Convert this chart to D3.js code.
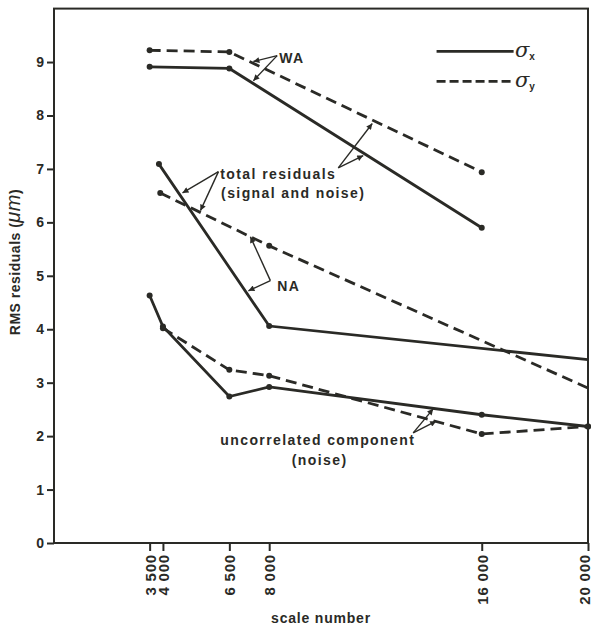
<!DOCTYPE html>
<html>
<head>
<meta charset="utf-8">
<title>RMS residuals vs scale number</title>
<script src="https://d3js.org/d3.v7.min.js"></script>
<style>
  body { margin: 0; background: #fff; }
  text { font-family: "Liberation Sans", Arial, sans-serif; fill: #2a2a26; }
  .tick text { font-weight: bold; }
</style>
</head>
<body>
<svg id="chart" width="593" height="630"></svg>
<script>
// tick values on the scale-number axis
var scaleTicks = [3500, 4000, 6500, 8000, 16000, 20000];
var rmsTicks = [0, 1, 2, 3, 4, 5, 6, 7, 8, 9];

// WA
var waScale = [3500, 6500, 16000];
var waSigmaX = [8.91, 8.88, 5.90];
var waSigmaY = [9.22, 9.19, 6.94];

// NA
var naScaleX = [3850, 8000, 20000];
var naSigmaX = [7.09, 4.06, 3.43];
var naScaleY = [3900, 8000, 20000];
var naSigmaY = [6.55, 5.56, 2.90];

// uncorrelated component (noise)
var ucScaleX = [3500, 4000, 6500, 8000, 16000, 20000];
var ucSigmaX = [4.63, 4.05, 2.74, 2.92, 2.40, 2.18];
var ucScaleY = [4000, 6500, 8000, 16000, 20000];
var ucSigmaY = [4.02, 3.24, 3.13, 2.04, 2.18];

// annotation arrows: from [scale, rms] to tips [scale, rms]
var arrows = [
  {from: [8300, 9.12], to: [[7405, 9.01], [7405, 8.65]]},
  {from: [6090, 6.95], to: [[4736, 6.55], [5413, 6.22]]},
  {from: [10600, 7.02], to: [[11880, 7.85], [11540, 7.25]]},
  {from: [8045, 4.91], to: [[7293, 5.73], [7218, 4.72]]},
  {from: [13420, 2.06], to: [[14286, 2.28], [14173, 2.51]]}
];
var labels = [
  {text: "WA", at: [8380, 8.98], anchor: "start"},
  {text: "total residuals", at: [6160, 6.82], anchor: "start"},
  {text: "(signal and noise)", at: [6190, 6.45], anchor: "start"},
  {text: "NA", at: [8300, 4.72], anchor: "start"},
  {text: "uncorrelated component", at: [6160, 1.83], anchor: "start"},
  {text: "(noise)", at: [9900, 1.46], anchor: "middle"}
];

var ink = "#2a2a26";
var svg = d3.select("#chart");

var x = d3.scaleLinear().domain([-100, 20000]).range([54, 588]);
var y = d3.scaleLinear().domain([0, 10]).range([543, 8.6]);

svg.append("defs").append("marker")
    .attr("id", "head")
    .attr("viewBox", "0 0 10 10")
    .attr("refX", 10).attr("refY", 5)
    .attr("markerWidth", 8).attr("markerHeight", 6)
    .attr("markerUnits", "userSpaceOnUse")
    .attr("orient", "auto")
  .append("path")
    .attr("d", "M0,0 L10,5 L0,10 Z")
    .attr("fill", ink);

// frame
svg.append("rect")
    .attr("x", x(-100)).attr("y", y(10))
    .attr("width", x(20000) - x(-100))
    .attr("height", y(0) - y(10))
    .attr("fill", "none")
    .attr("stroke", ink)
    .attr("stroke-width", 2);

// y axis
var yAxis = svg.append("g")
    .attr("transform", "translate(" + x(-100) + ",0)")
    .call(d3.axisLeft(y).tickValues(rmsTicks).tickSize(7).tickPadding(3).tickFormat(d3.format("d")));
yAxis.select(".domain").remove();
yAxis.selectAll(".tick line").attr("stroke", ink).attr("stroke-width", 2);
yAxis.selectAll(".tick text").style("font-size", "14px").attr("fill", ink);

// x axis
var xAxis = svg.append("g")
    .attr("transform", "translate(0," + y(0) + ")")
    .call(d3.axisBottom(x).tickValues(scaleTicks).tickSize(8)
      .tickFormat(function(d) { return d3.format(",")(d).replace(",", " "); }));
xAxis.select(".domain").remove();
xAxis.selectAll(".tick line").attr("stroke", ink).attr("stroke-width", 2);
xAxis.selectAll(".tick text")
    .style("font-size", "15px")
    .style("letter-spacing", "0.8px")
    .attr("fill", ink)
    .attr("transform", "rotate(-90)")
    .attr("text-anchor", "end")
    .attr("x", -11)
    .attr("y", function(d) { return d === 20000 ? -4 : 0; })  // keep last label inside the page
    .attr("dy", "0.36em");

// axis titles
svg.append("text")
    .attr("x", 321).attr("y", 623)
    .attr("text-anchor", "middle")
    .style("font-size", "14px").style("font-weight", "bold").style("letter-spacing", "0.8px")
    .text("scale number");

var yt = svg.append("text")
    .attr("transform", "translate(20,262) rotate(-90)")
    .attr("text-anchor", "middle")
    .style("font-size", "14px").style("font-weight", "bold").style("letter-spacing", "0.5px");
yt.append("tspan").text("RMS residuals (");
yt.append("tspan").text("\u03bcm").style("font-style", "italic").style("font-size", "20px").style("font-weight", "normal");
yt.append("tspan").text(")");

// series
var line = d3.line().x(function(d) { return x(d[0]); }).y(function(d) { return y(d[1]); });
var series = [
  {xs: waScale, ys: waSigmaX, dash: null},
  {xs: waScale, ys: waSigmaY, dash: "11,6"},
  {xs: naScaleX, ys: naSigmaX, dash: null},
  {xs: naScaleY, ys: naSigmaY, dash: "11,6"},
  {xs: ucScaleX, ys: ucSigmaX, dash: null},
  {xs: ucScaleY, ys: ucSigmaY, dash: "11,6"}
];
series.forEach(function(s) {
  var pts = d3.zip(s.xs, s.ys);
  svg.append("path")
      .datum(pts)
      .attr("d", line)
      .attr("fill", "none")
      .attr("stroke", ink)
      .attr("stroke-width", 2.8)
      .attr("stroke-dasharray", s.dash);
  svg.selectAll(null)
      .data(pts.filter(function(p) { return p[0] < 20000 || s.xs === ucScaleX || s.xs === ucScaleY; }))
      .enter().append("circle")
      .attr("cx", function(p) { return x(p[0]); })
      .attr("cy", function(p) { return y(p[1]); })
      .attr("r", 3)
      .attr("fill", ink);
});

// annotations
arrows.forEach(function(a) {
  a.to.forEach(function(t) {
    svg.append("line")
        .attr("x1", x(a.from[0])).attr("y1", y(a.from[1]))
        .attr("x2", x(t[0])).attr("y2", y(t[1]))
        .attr("stroke", ink)
        .attr("stroke-width", 1.4)
        .attr("marker-end", "url(#head)");
  });
});
svg.selectAll("text.note")
    .data(labels)
    .enter().append("text")
    .attr("class", "note")
    .attr("x", function(d) { return x(d.at[0]); })
    .attr("y", function(d) { return y(d.at[1]); })
    .attr("text-anchor", function(d) { return d.anchor; })
    .style("font-size", "14px")
    .style("font-weight", "bold")
    .style("letter-spacing", "1.4px")
    .text(function(d) { return d.text; });

// legend
var legendKeys = [{sub: "x", dash: null, v: 9.2}, {sub: "y", dash: "9,4", v: 8.64}];
legendKeys.forEach(function(k) {
  svg.append("line")
      .attr("x1", x(14300)).attr("x2", x(17200))
      .attr("y1", y(k.v)).attr("y2", y(k.v))
      .attr("stroke", ink).attr("stroke-width", 2.8)
      .attr("stroke-dasharray", k.dash);
  var t = svg.append("text")
      .attr("x", x(17250)).attr("y", y(k.v) + 6)
      .style("font-family", "'DejaVu Serif', 'Liberation Serif', serif")
      .style("font-style", "italic")
      .style("font-size", "21px");
  t.append("tspan").text("\u03c3");
  t.append("tspan").text(k.sub).attr("dy", 3)
      .style("font-size", "10px").style("font-style", "normal").style("font-weight", "bold")
      .style("font-family", "'Liberation Sans', Arial, sans-serif");
});
</script>
</body>
</html>
